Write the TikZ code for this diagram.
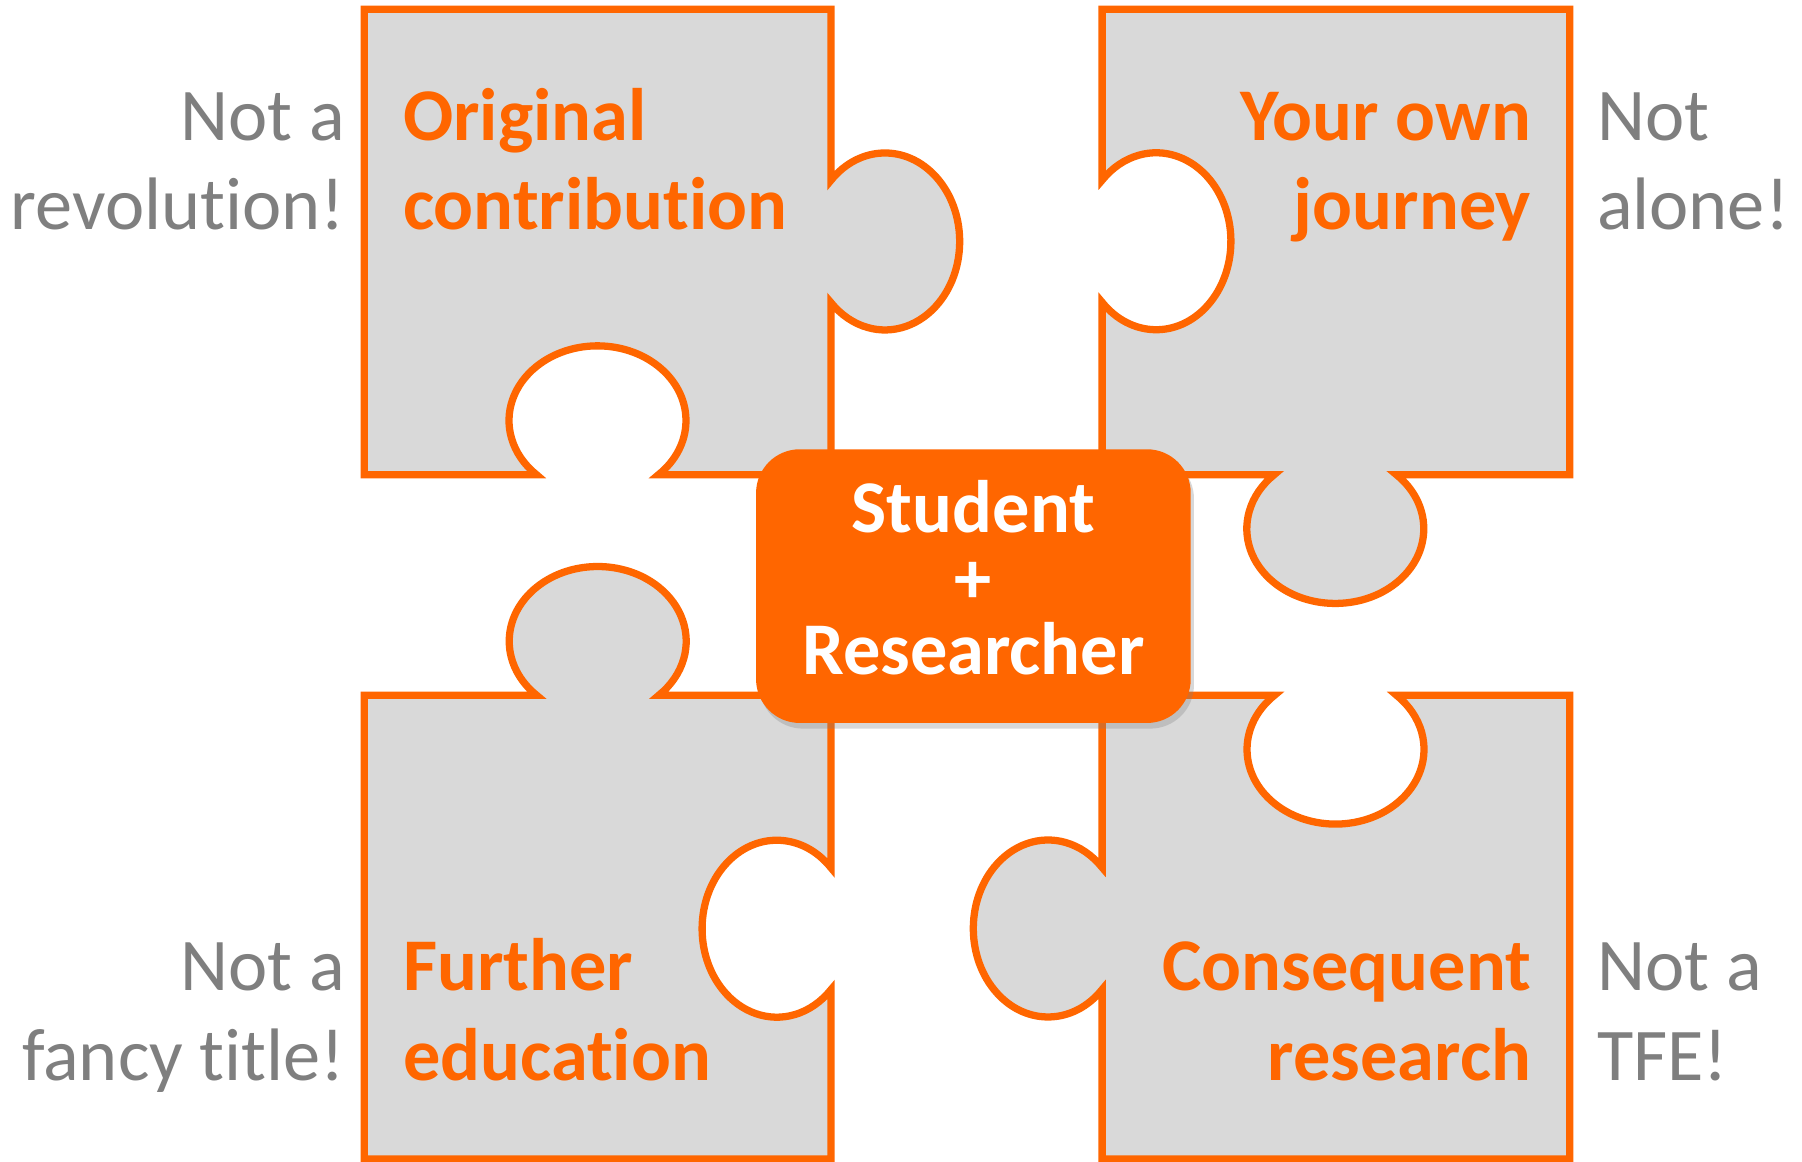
\documentclass[tikz,border=0pt]{standalone}
\usepackage{fontspec}
\setmainfont{Carlito}[Ligatures=NoCommon]
\usetikzlibrary{shadows}
\definecolor{puzzleorange}{HTML}{FF6600}
\definecolor{puzzlegray}{HTML}{D9D9D9}
\definecolor{notegray}{HTML}{7F7F7F}
\tikzset{
  piece/.style={draw=puzzleorange, fill=puzzlegray, line width=1.8pt},
  goal/.style={text=puzzleorange, inner sep=0pt, font=\bfseries\fontsize{18.4}{22.1}\selectfont},
  note/.style={text=notegray, inner sep=0pt, font=\fontsize{18.4}{22.1}\selectfont},
  corebox/.style={fill=puzzleorange, rounded corners=0.38cm, minimum width=3.78cm, minimum height=2.38cm,
    drop shadow={opacity=0.3, shadow xshift=0.8pt, shadow yshift=-1.4pt}},
}
\begin{document}
\begin{tikzpicture}[x=0.01cm, y=-0.01cm]
    \useasboundingbox (0,0) rectangle (1568,1011);
    \fill[white] (0,0) rectangle (1568,1011);

    % top left piece
    \draw[piece] (317,8) -- (723,8) -- (723,157)
        arc[start angle=-136.4, end angle=136.4, x radius=65, y radius=77]
        -- (723,413) -- (573,413)
        arc[start angle=46.4, end angle=-226.4, x radius=77, y radius=65]
        -- (317,413) -- cycle;

    % top right piece
    \draw[piece] (959,8) -- (1366,8) -- (1366,413) -- (1215,413)
        arc[start angle=-46.4, end angle=226.4, x radius=77, y radius=65]
        -- (959,413) -- (959,263)
        arc[start angle=136.4, end angle=-136.4, x radius=65, y radius=77]
        -- cycle;

    % bottom left piece
    \draw[piece] (317,605) -- (467,605)
        arc[start angle=133.6, end angle=406.4, x radius=77, y radius=65]
        -- (723,605) -- (723,755)
        arc[start angle=-43.6, end angle=-316.4, x radius=65, y radius=77]
        -- (723,1008.5) -- (317,1008.5) -- cycle;

    % bottom right piece
    \draw[piece] (959,605) -- (1109,605)
        arc[start angle=226.4, end angle=-46.4, x radius=77, y radius=65]
        -- (1366,605) -- (1366,1008.5) -- (959,1008.5) -- (959,861)
        arc[start angle=43.6, end angle=316.4, x radius=65, y radius=77]
        -- cycle;

    % base anchor sits on the last line
    \node[goal, anchor=base west, align=left] (orig) at (350,200) {Original\\contribution};
    \node[goal, anchor=base east, align=right] (journey) at (1333,200) {Your own\\journey};
    \node[goal, anchor=base west, align=left] (further) at (350,940) {Further\\education};
    \node[goal, anchor=base east, align=right] (consequent) at (1333,940) {Consequent\\research};

    \node[note, anchor=base east, align=right] (notrev) at (301,200) {Not a\\revolution!};
    \node[note, anchor=base west, align=left] (notalone) at (1389,200) {Not\\alone!};
    \node[note, anchor=base east, align=right] (notfancy) at (301,940) {Not a\\fancy title!};
    \node[note, anchor=base west, align=left] (nottfe) at (1389,940) {Not a\\TFE!};

    \node[corebox] (core) at (847,510) {};
    \node[text=white, inner sep=0pt, align=center, anchor=base,
        font=\bfseries\fontsize{18.4}{17.6}\selectfont] (coretext) at (847,587) {Student\\+\\Researcher};
\end{tikzpicture}
\end{document}
